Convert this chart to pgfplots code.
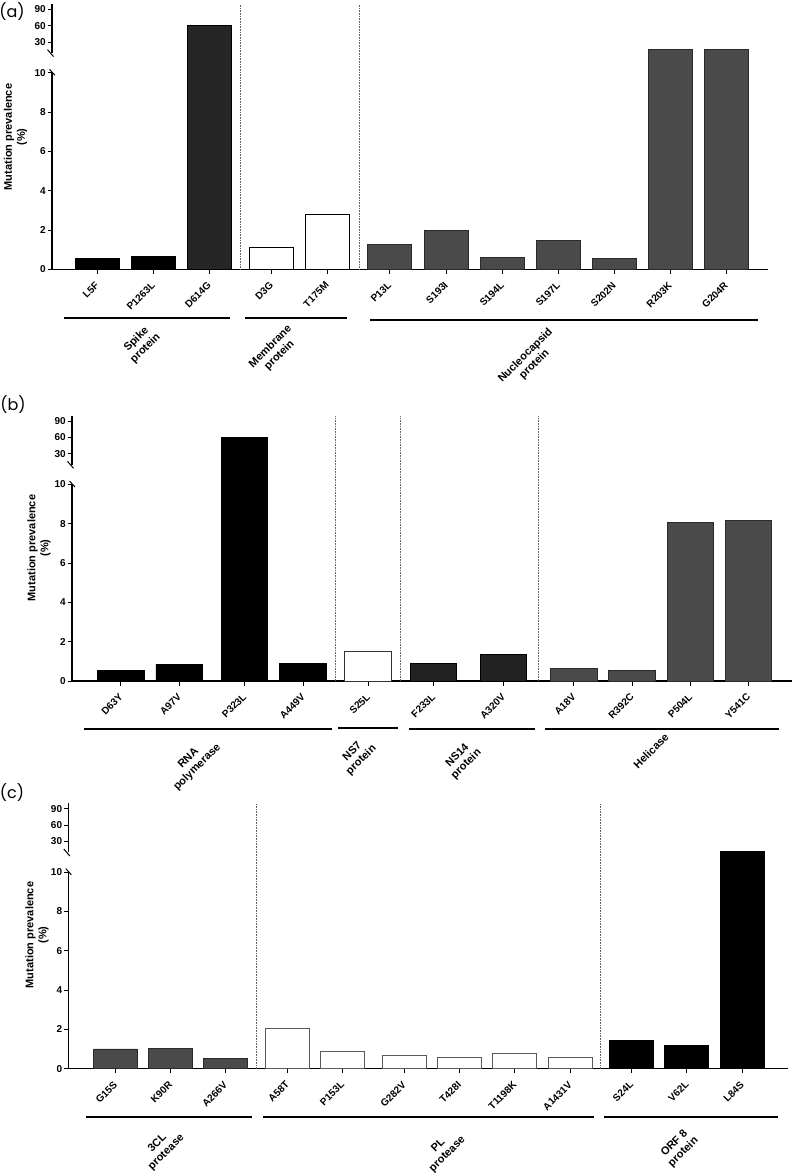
\documentclass[border=0pt]{standalone}
\usepackage{pgfplots}
\pgfplotsset{compat=1.18}
\usepackage{fontspec}
\setmainfont{Liberation Sans}
\newfontfamily\panelfont{Poppins}
\definecolor{nuc}{HTML}{4A4A4A}
\definecolor{nucedge}{HTML}{2A2A2A}
\definecolor{dk}{HTML}{262626}
\definecolor{nsf}{HTML}{222222}
\definecolor{sepc}{HTML}{606060}

\pgfplotsset{
  bars/.style={ybar, bar shift=0pt, bar width=#1, line width=0.7pt},
  brk/.style={
    x=1pt, y=19.65pt,
    ymin=0, ymax=100,
    y coord trafo/.code={\pgfmathparse{(##1>10)*(11.56+(##1-30)*0.0278)+(##1<=10)*(##1)}},
    y coord inv trafo/.code={\pgfmathparse{(##1>10.5)*(30+(##1-11.56)/0.0278)+(##1<=10.5)*(##1)}},
    axis x line*=bottom, axis y line*=left,
    y axis line style={draw=none},
    x axis line style={line width=1.2pt},
    ytick={0,2,4,6,8,10,30,60,90},
    yticklabels={0,2,4,6,8,10,30,60,90},
    minor tick num=0,
    tick align=outside, major tick length=4.5pt,
    every tick/.style={black, line width=1pt},
    xticklabel style={yshift=-9pt, xshift=1pt, rotate=45, anchor=east, font=\fontsize{10}{12}\selectfont\bfseries, inner sep=1pt},
    yticklabel style={font=\fontsize{10}{12}\selectfont\bfseries, inner sep=1.5pt},
    anchor=south west,
    clip=false,
  },
}
\tikzset{
  sepline/.style={densely dotted, sepc, line width=0.6pt},
  grp/.style={rotate=45, align=center, font=\fontsize{11}{12.5}\selectfont\bfseries, inner sep=0pt},
  ylab/.style={rotate=90, align=center, font=\fontsize{11}{13}\selectfont\bfseries, inner sep=0pt},
  pan/.style={font=\panelfont\fontsize{16}{18}\selectfont, inner sep=0pt},
}
\newcommand\yaxisbreak[1]{%
  \draw[line width=1.2pt] (axis cs:#1,0) -- (axis cs:#1,10);
  \draw[line width=1.2pt] (axis cs:#1,10.01) -- (axis cs:#1,100);
  \draw[line width=1pt] ([xshift=-2.5pt,yshift=3.5pt]axis cs:#1,10) -- ([xshift=3pt,yshift=-2.5pt]axis cs:#1,10);
  \draw[line width=1pt] ([xshift=-4.5pt,yshift=3.5pt]axis cs:#1,10.01) -- ([xshift=1.5pt,yshift=-3.5pt]axis cs:#1,10.01);
}

\begin{document}
\begin{tikzpicture}[x=1pt,y=1pt]
\useasboundingbox (0,0) rectangle (799,-1175);

% ---------------- Panel (a)
\begin{axis}[brk, at={(52pt,-269.3pt)}, xmin=52, xmax=768,
  xtick={97,153,209,271.3,327,389.3,446,502,558,614,670,726},
  xticklabels={L5F,P1263L,D614G,D3G,T175M,P13L,S193I,S194L,S197L,S202N,R203K,G204R}]
\addplot[bars=44, fill=black, draw=black] coordinates {(97,0.56) (153,0.64)};
\addplot[bars=44, fill=dk, draw=black] coordinates {(209,61)};
\addplot[bars=44, fill=white, draw=black] coordinates {(271.3,1.12) (327,2.80)};
\addplot[bars=44, fill=nuc, draw=nucedge] coordinates {(389.3,1.27) (446,2.0) (502,0.61) (558,1.49) (614,0.54) (670,17) (726,17)};
\draw[sepline] (axis cs:240,0) -- (axis cs:240,100);
\draw[sepline] (axis cs:359,0) -- (axis cs:359,100);
\yaxisbreak{52}
\end{axis}
\node[pan] at (12,-12) {(a)};
\node[ylab] at (15.5,-137) {Mutation prevalence\\(\%)};
\draw[line width=1.6pt] (64,-318) -- (230,-318);
\draw[line width=1.6pt] (245,-318) -- (347,-318);
\draw[line width=1.6pt] (370,-320) -- (758,-320);
\node[grp] at (141,-344) {Spike\\protein};
\node[grp] at (275,-351) {Membrane\\protein};
\node[grp] at (530,-360) {Nucleocapsid\\protein};

% ---------------- Panel (b)
\begin{axis}[brk, at={(72pt,-681pt)}, xmin=72, xmax=792,
  xtick={120.7,179.2,244.3,303,368,433.3,503.3,573.7,632,690.3,748.3},
  xticklabels={D63Y,A97V,P323L,A449V,S25L,F233L,A320V,A18V,R392C,P504L,Y541C}]
\addplot[bars=46.5, fill=black, draw=black] coordinates {(120.7,0.53) (179.2,0.86) (244.3,60) (303,0.90)};
\addplot[bars=46.5, fill=white, draw=black!80] coordinates {(368,1.51)};
\addplot[bars=46.5, fill=nsf, draw=black] coordinates {(433.3,0.90) (503.3,1.37)};
\addplot[bars=46.5, fill=nuc, draw=nucedge] coordinates {(573.7,0.63) (632,0.53) (690.3,8.05) (748.3,8.19)};
\draw[sepline] (axis cs:335.7,0) -- (axis cs:335.7,100);
\draw[sepline] (axis cs:400.7,0) -- (axis cs:400.7,100);
\draw[sepline] (axis cs:538.3,0) -- (axis cs:538.3,100);
\yaxisbreak{72}
\end{axis}
\node[pan] at (13,-405) {(b)};
\node[ylab] at (39,-548) {Mutation prevalence\\(\%)};
\draw[line width=1.6pt] (84,-729) -- (332,-729);
\draw[line width=2.4pt] (338,-728) -- (398,-728);
\draw[line width=1.6pt] (409,-729) -- (535,-729);
\draw[line width=1.6pt] (545,-729) -- (779,-729);
\node[grp] at (193,-763) {RNA\\polymerase};
\node[grp] at (357,-756) {NS7\\protein};
\node[grp] at (462,-760) {NS14\\protein};
\node[grp] at (651,-751) {Helicase};

% ---------------- Panel (c)
\begin{axis}[brk, at={(68.3pt,-1068.7pt)}, xmin=68.3, xmax=788,
  xtick={115.3,170.3,225.3,287.2,342.3,404,459.2,514.7,570,631.3,686.8,742},
  xticklabels={G15S,K90R,A266V,A58T,P153L,G282V,T428I,T1198K,A1431V,S24L,V62L,L84S}]
\addplot[bars=44, fill=nuc, draw=nucedge] coordinates {(115.3,1.01) (170.3,1.04) (225.3,0.52)};
\addplot[bars=44, fill=white, draw=black!65] coordinates {(287.2,2.07) (342.3,0.87) (404,0.67) (459.2,0.57) (514.7,0.79) (570,0.60)};
\addplot[bars=44, fill=black, draw=black] coordinates {(631.3,1.43) (686.8,1.18) (742,11.8)};
\draw[sepline] (axis cs:256,0) -- (axis cs:256,100);
\draw[sepline] (axis cs:600.7,0) -- (axis cs:600.7,100);
\yaxisbreak{68.3}
\end{axis}
\node[pan] at (12,-793) {(c)};
\node[ylab] at (37,-935) {Mutation prevalence\\(\%)};
\draw[line width=1.6pt] (86,-1116.7) -- (252,-1116.7);
\draw[line width=1.6pt] (263,-1116.7) -- (594,-1116.7);
\draw[line width=1.6pt] (604,-1116.7) -- (778,-1116.7);
\node[grp] at (162,-1148) {3CL\\protease};
\node[grp] at (443,-1150) {PL\\protease};
\node[grp] at (679,-1148) {ORF 8\\protein};
\end{tikzpicture}
\end{document}
